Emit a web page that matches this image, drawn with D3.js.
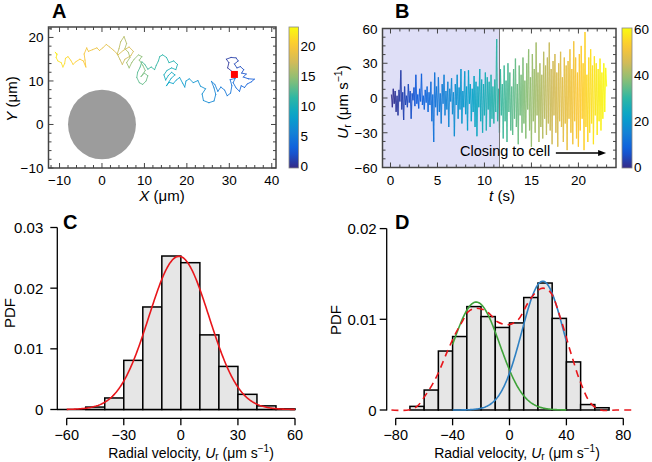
<!DOCTYPE html>
<html><head><meta charset="utf-8">
<script src="https://cdn.jsdelivr.net/npm/d3@7"></script>
<style>
body{margin:0;background:#fff}
svg{display:block}
text{font-family:Arial,"Liberation Sans",sans-serif;fill:#000}
</style>
</head><body>
<svg id="c" width="652" height="462"></svg>
<script>
// ---------------- DATA ----------------
// Panel A: trajectory (µm), in time order (start = red dot)
const trajX = [31.2,30.5,29.6,29.9,29.3,30.4,31.6,32.1,31.2,31.8,32.6,33.4,32.9,34.0,33.3,34.5,35.9,35.2,34.2,33.6,32.8,32.4,31.6,30.9,31.4,30.2,30.6,30.3,29.5,28.9,28.0,27.3,
 26.6,25.8,26.4,26.8,26.4,25.2,23.9,23.6,24.4,23.2,22.6,21.5,20.6,19.8,19.5,19.0,18.3,17.5,16.8,15.8,15.2,16.3,17.2,16.4,
 15.6,15.0,14.6,15.3,16.4,17.4,17.8,16.9,15.8,15.2,14.3,13.6,13.3,12.8,12.4,
 11.6,10.8,10.1,9.4,9.0,8.4,8.2,8.8,9.6,10.4,10.8,10.0,9.2,10.2,9.6,8.8,9.4,8.6,7.6,7.0,6.4,
 5.8,6.6,6.2,5.4,5.8,5.2,4.4,4.0,3.6,4.2,4.8,5.4,6.8,7.4,6.4,5.0,3.8,2.8,1.8,1.0,
 0.2,-0.6,-1.2,-2.2,-3.2,-3.6,-4.2,-4.0,-3.8,-4.4,-5.2,-6.2,-6.8,-7.4,-8.0,-8.6,-8.8,-9.2,-9.6,-10.4,-10.8,-10.6,-11.0,-10.6];
const trajY = [11.5,12.3,13.0,14.2,15.0,15.4,15.3,14.6,13.9,13.0,13.3,12.6,11.8,11.6,10.9,10.5,10.4,9.8,9.3,8.5,8.9,7.6,8.4,9.6,10.6,10.3,8.9,7.2,6.6,7.9,8.6,7.6,
 9.2,9.9,8.4,6.9,5.4,5.0,5.5,7.0,8.2,8.8,10.1,9.6,10.5,10.0,8.6,9.5,10.8,10.2,9.4,9.7,8.9,10.6,11.4,12.0,
 11.2,10.2,11.4,12.4,13.0,12.6,13.8,14.6,14.2,15.4,16.0,15.6,14.6,13.6,12.6,
 13.2,12.7,13.8,14.4,13.2,12.0,10.8,9.6,9.2,10.0,11.2,11.8,11.0,12.4,13.6,14.8,15.6,16.0,15.0,14.2,13.0,
 14.2,15.4,16.6,17.4,18.6,20.2,19.0,17.4,16.2,15.0,13.8,15.0,15.8,16.8,17.8,17.0,16.0,17.0,17.8,18.4,
 17.6,17.0,17.6,17.2,16.8,17.6,16.2,14.8,13.2,14.6,15.0,14.4,13.8,14.8,15.6,15.2,14.0,13.2,14.2,14.6,15.4,16.2,16.6,16.0];
const trajDuration = 22.5;          // s
const cellCenter = [0, 0];          // µm
const cellRadius = 8;               // µm
const ticksAx = [-10, 0, 10, 20, 30, 40];
const ticksAy = [-10, 0, 10, 20];
const ticksAcb = [0, 5, 10, 15, 20];

// Panel B: radial velocity (µm/s), sampled every 0.1 s from t = 0.1 s
const velStep = 0.1;
const velocity = [
 3,-8,8,-5,6,-12,2,-15,7,-3,
 24,-10,5,-19,10,-6,2,-8,12,-4,
 6,-18,4,-2,9,-7,20,-5,3,-9,
 8,-3,21,-6,2,-10,7,-4,10,-12,
 5,-6,14,-20,3,-38,22,-8,10,-15,
 18,-12,4,-22,12,-5,20,-15,6,-10,
 14,-25,8,-3,17,-14,5,-33,12,-6,
 20,-18,9,-10,25,-22,6,-8,23,-14,
 10,-28,24,-5,12,-20,8,-12,19,-25,
 14,-33,10,-8,25,-20,16,-30,12,-15,
 22,-28,18,-10,14,-25,20,-18,10,-22,
 16,-12,51,-20,8,-30,25,-15,12,-35,
 28,-20,15,-38,30,-12,22,-28,10,-32,
 25,-18,34,-25,12,-40,28,-15,20,-30,
 35,-22,15,-35,30,-10,42,-28,18,-42,
 38,-20,25,-30,48,-15,22,-38,30,-25,
 20,-35,40,-18,28,-32,35,-22,48,-28,
 25,-40,32,-15,38,-30,22,-42,30,-20,
 40,-25,18,-38,35,-22,28,-45,32,-18,
 42,-30,25,-40,49,-20,35,-35,22,-42,
 38,-28,45,-18,30,-45,57,-25,20,-38,
 35,-30,42,-22,28,-40,36,-15,30,-32,
 25,-20,34,-28,22,-18,30,-12,26,10];
const farPhaseEnd = 11.6;  // s, end of shaded region
const ticksBx = [0, 5, 10, 15, 20];
const ticksBy = [-60, -30, 0, 30, 60];
const ticksBcb = [0, 20, 40, 60];

// Panel C: histogram of Ur (bin width 10)
const binsC = [-50,-40,-30,-20,-10,0,10,20,30,40,50];
const pdfC  = [0.0004,0.0019,0.0081,0.0169,0.0253,0.0242,0.0123,0.0071,0.0025,0.0006,0.0001];
const fitC = {mean: -1, sd: 15.8};
const ticksCx = [-60,-30,0,30,60];
const ticksCy = [0,0.01,0.02,0.03];

// Panel D: histogram of Ur (bin width 10)
const binsD = [-70,-60,-50,-40,-30,-20,-10,0,10,20,30,40,50,60];
const pdfD  = [0.0004,0.0022,0.0065,0.0081,0.0114,0.0103,0.0091,0.0096,0.0124,0.0140,0.0101,0.0053,0.0006,0.00025];
const fitGreen = {mean: -23.4, sd: 16.6, peak: 0.0119, from: -40, to: 40};
const fitBlue  = {mean: 23.4, sd: 14.8, peak: 0.0142, from: -40, to: 40};
const envX = [-83,-71,-65,-59.6,-55,-50.3,-43.3,-37.4,-33,-29.2,-24.6,-17.5,-12,-8.2,-1.2,5.8,12.9,18,22.2,25,29.2,36.3,43.3,50.3,57.3,64.3,75,86];
const envY = [0,0,0.0004,0.0015,0.0026,0.0040,0.0066,0.0086,0.0098,0.0108,0.0112,0.0110,0.0103,0.0097,0.0094,0.0099,0.0118,0.0129,0.0134,0.0134,0.0129,0.0099,0.0062,0.0029,0.0007,0,0,0];
const ticksDx = [-80,-40,0,40,80];
const ticksDy = [0,0.01,0.02];

// ---------------- HELPERS ----------------
const svg = d3.select("#c");
const parulaStops = ["#352a87","#0f5cdd","#1481d6","#06a4ca","#2eb7a4","#87bf77","#d1bb59","#fec832","#f9fb0e"];
const parula = d3.piecewise(d3.interpolateRgb, parulaStops);
const minus = s => String(s).replace("-", "\u2212");

function gradient(id) {
  const lg = svg.append("defs").append("linearGradient").attr("id", id)
    .attr("x1",0).attr("y1",1).attr("x2",0).attr("y2",0);
  d3.range(0, 1.0001, 0.05).forEach(f => lg.append("stop").attr("offset", f).attr("stop-color", parula(f)));
}

function boxAxes(g, x, y, o) {
  const [x0, x1] = x.range(), [y0, y1] = y.range();
  const t = g.append("g").attr("stroke", "#444").attr("stroke-width", 1);
  o.xMinor.forEach(v => { const L = o.xMajor.includes(v) ? 5 : 3;
    t.append("line").attr("x1", x(v)).attr("x2", x(v)).attr("y1", y0).attr("y2", y0 - L);
    t.append("line").attr("x1", x(v)).attr("x2", x(v)).attr("y1", y1).attr("y2", y1 + L); });
  o.yMinor.forEach(v => { const L = o.yMajor.includes(v) ? 5 : 3;
    t.append("line").attr("y1", y(v)).attr("y2", y(v)).attr("x1", x0).attr("x2", x0 + L);
    t.append("line").attr("y1", y(v)).attr("y2", y(v)).attr("x1", x1).attr("x2", x1 - L); });
  g.append("rect").attr("x", x0).attr("y", y1).attr("width", x1 - x0).attr("height", y0 - y1)
    .attr("fill", "none").attr("stroke", "#444").attr("stroke-width", 1.5);
  o.xMajor.forEach(v => g.append("text").attr("x", x(v)).attr("y", y0 + 17).attr("text-anchor", "middle")
    .attr("font-size", 13.5).text(minus(v)));
  o.yMajor.forEach(v => g.append("text").attr("x", x0 - 5).attr("y", y(v) + 5).attr("text-anchor", "end")
    .attr("font-size", 13.5).text(minus(v)));
}

function colorbar(g, x0, w, cy, ticks, id) {
  const [b, t] = cy.range();
  g.append("rect").attr("x", x0).attr("y", t).attr("width", w).attr("height", b - t)
    .attr("fill", `url(#${id})`).attr("stroke", "#888").attr("stroke-width", 0.8);
  ticks.forEach(v => g.append("text").attr("x", x0 + w + 2).attr("y", cy(v) + 5).attr("font-size", 13.5).text(v));
}

function pdfAxes(g, x, y, o) {
  const [x0, x1] = x.range(), [yb, yt] = y.range();
  const sx = o.spineX, ay = o.axisY;
  g.append("line").attr("x1", sx).attr("x2", sx).attr("y1", yt).attr("y2", yb + 0.5).attr("stroke", "#000").attr("stroke-width", 1.3);
  o.yTicks.forEach(v => {
    g.append("line").attr("x1", sx - 7).attr("x2", sx).attr("y1", y(v)).attr("y2", y(v)).attr("stroke", "#000").attr("stroke-width", 1.3);
    g.append("text").attr("x", sx - o.labelGap).attr("y", y(v) + 5.5).attr("text-anchor", "end").attr("font-size", 15).text(v === 0 ? "0" : d3.format(".2f")(v));
  });
  g.append("line").attr("x1", x0).attr("x2", x1).attr("y1", ay).attr("y2", ay).attr("stroke", "#000").attr("stroke-width", 1.3);
  o.xTicks.forEach(v => {
    g.append("line").attr("x1", x(v)).attr("x2", x(v)).attr("y1", ay).attr("y2", ay + 7).attr("stroke", "#000").attr("stroke-width", 1.3);
    g.append("text").attr("x", x(v)).attr("y", ay + 22).attr("text-anchor", "middle").attr("font-size", 14.5).text(minus(v));
  });
}

function radialLabel(g, cx, by) {
  const t = g.append("text").attr("x", cx).attr("y", by).attr("text-anchor", "middle").attr("font-size", 14);
  t.append("tspan").text("Radial velocity, ");
  t.append("tspan").attr("font-style", "italic").text("U");
  t.append("tspan").attr("font-size", 10).attr("dy", 2).text("r");
  t.append("tspan").attr("dy", -2).text(" (\u03bcm s");
  t.append("tspan").attr("font-size", 10).attr("dy", -6).text("\u22121");
  t.append("tspan").attr("dy", 6).text(")");
}

function panelLetter(x, y, s) {
  svg.append("text").attr("x", x).attr("y", y).attr("font-size", 20).attr("font-weight", "bold").text(s);
}

// ---------------- PANEL A ----------------
const gA = svg.append("g");
const xA = d3.scaleLinear().domain([-12.6, 41]).range([48.5, 276]);
const yA = d3.scaleLinear().domain([-10, 22.4]).range([168, 27]);
const cbA = d3.scaleLinear().domain([-0.25, 23.1]).range([168, 27]);
gradient("gradA");
gA.append("ellipse").attr("cx", xA(cellCenter[0])).attr("cy", yA(cellCenter[1]))
  .attr("rx", xA(cellRadius) - xA(0)).attr("ry", yA(0) - yA(cellRadius)).attr("fill", "#9c9c9c");
const nA = trajX.length;
const colA = t => parula((t - cbA.domain()[0]) / (cbA.domain()[1] - cbA.domain()[0]));
for (let i = 0; i < nA - 1; i++) {
  const tm = (i + 0.5) / (nA - 1) * trajDuration;
  gA.append("line").attr("x1", xA(trajX[i])).attr("y1", yA(trajY[i]))
    .attr("x2", xA(trajX[i + 1])).attr("y2", yA(trajY[i + 1]))
    .attr("stroke", colA(tm)).attr("stroke-width", 1).attr("stroke-linecap", "round").attr("opacity", 0.85);
}
gA.append("rect").attr("x", xA(trajX[0]) - 3.5).attr("y", yA(trajY[0]) - 3.5).attr("width", 7).attr("height", 7).attr("fill", "#ff0000");
boxAxes(gA, xA, yA, {xMajor: ticksAx, xMinor: d3.range(-12, 41, 2), yMajor: ticksAy, yMinor: d3.range(-10, 23, 2)});
colorbar(gA, 289, 9.5, cbA, ticksAcb, "gradA");
{
  const t = gA.append("text").attr("x", 162).attr("y", 201).attr("text-anchor", "middle").attr("font-size", 15);
  t.append("tspan").attr("font-style", "italic").text("X");
  t.append("tspan").text(" (\u03bcm)");
  const ty = gA.append("text").attr("transform", "translate(17,99) rotate(-90)").attr("text-anchor", "middle").attr("font-size", 15);
  ty.append("tspan").attr("font-style", "italic").text("Y");
  ty.append("tspan").text(" (\u03bcm)");
}
panelLetter(52, 17.5, "A");

// ---------------- PANEL B ----------------
const gB = svg.append("g");
const xB = d3.scaleLinear().domain([-0.85, 24]).range([382.5, 616]);
const yB = d3.scaleLinear().domain([-60, 60]).range([167.5, 28.5]);
const cbB = d3.scaleLinear().domain([-0.6, 60.6]).range([168, 28]);
gradient("gradB");
gB.append("rect").attr("x", xB(-0.85)).attr("y", yB(60)).attr("width", xB(farPhaseEnd) - xB(-0.85))
  .attr("height", yB(-60) - yB(60)).attr("fill", "#dfdff7");
const tB = velocity.map((v, i) => (i + 1) * velStep);
const tMax = tB[tB.length - 1];
for (let i = 0; i < velocity.length - 1; i++) {
  gB.append("line").attr("x1", xB(tB[i])).attr("y1", yB(velocity[i]))
    .attr("x2", xB(tB[i + 1])).attr("y2", yB(velocity[i + 1]))
    .attr("stroke", parula(((tB[i] + tB[i + 1]) / 2) / tMax)).attr("stroke-width", 1.2).attr("opacity", 0.85);
}
gB.append("line").attr("x1", xB(farPhaseEnd)).attr("x2", xB(farPhaseEnd)).attr("y1", yB(60)).attr("y2", yB(-60))
  .attr("stroke", "#777").attr("stroke-width", 1);
boxAxes(gB, xB, yB, {xMajor: ticksBx, xMinor: d3.range(0, 24, 1), yMajor: ticksBy, yMinor: d3.range(-60, 61, 7.5)});
colorbar(gB, 622, 10, cbB, ticksBcb, "gradB");
gB.append("text").attr("x", xB(17.0)).attr("y", yB(-50.5)).attr("text-anchor", "end").attr("font-size", 14.5).text("Closing to cell");
gB.append("line").attr("x1", xB(17.6)).attr("x2", xB(22.3)).attr("y1", yB(-47.5)).attr("y2", yB(-47.5)).attr("stroke", "#000").attr("stroke-width", 1.5);
gB.append("path").attr("d", `M${xB(22.95)},${yB(-47.5)} l-8,-3 l0,6 z`).attr("fill", "#000");
{
  const t = gB.append("text").attr("x", 502).attr("y", 201).attr("text-anchor", "middle").attr("font-size", 15);
  t.append("tspan").attr("font-style", "italic").text("t");
  t.append("tspan").text(" (s)");
  const ty = gB.append("text").attr("transform", "translate(348,102) rotate(-90)").attr("text-anchor", "middle").attr("font-size", 15);
  ty.append("tspan").attr("font-style", "italic").text("U");
  ty.append("tspan").attr("font-size", 10.5).attr("dy", 3).text("r");
  ty.append("tspan").attr("dy", -3).text(" (\u03bcm s");
  ty.append("tspan").attr("font-size", 10.5).attr("dy", -6).text("\u22121");
  ty.append("tspan").attr("dy", 6).text(")");
}
panelLetter(395, 17.5, "B");

// ---------------- PANEL C ----------------
const gC = svg.append("g");
const xC = d3.scaleLinear().domain([-60, 60]).range([66.7, 295]);
const yC = d3.scaleLinear().domain([0, 0.03]).range([409.5, 227.5]);
gC.append("line").attr("x1", 57).attr("x2", xC(60)).attr("y1", yC(0)).attr("y2", yC(0)).attr("stroke", "#000").attr("stroke-width", 1.5);
gC.selectAll("rect.bar").data(pdfC).join("rect")
  .attr("x", (d, i) => xC(binsC[i])).attr("width", (d, i) => xC(binsC[i] + 10) - xC(binsC[i]))
  .attr("y", d => yC(d)).attr("height", d => yC(0) - yC(d))
  .attr("fill", "#e6e6e6").attr("stroke", "#000").attr("stroke-width", 1.5);
const gaussC = d3.range(-60, 60.01, 0.5).map(u => [u, Math.exp(-0.5 * ((u - fitC.mean) / fitC.sd) ** 2) / (fitC.sd * Math.sqrt(2 * Math.PI))]);
gC.append("path").attr("d", d3.line().x(d => xC(d[0])).y(d => yC(d[1]))(gaussC))
  .attr("fill", "none").attr("stroke", "#e8161b").attr("stroke-width", 1.6);
pdfAxes(gC, xC, yC, {spineX: 57.3, axisY: 418.3, yTicks: ticksCy, xTicks: ticksCx, labelGap: 14});
gC.append("text").attr("transform", "translate(15,313) rotate(-90)").attr("text-anchor", "middle").attr("font-size", 15).text("PDF");
radialLabel(gC, 191, 457.5);
panelLetter(63, 229, "C");

// ---------------- PANEL D ----------------
const gD = svg.append("g");
const xD = d3.scaleLinear().domain([-80, 80]).range([395.7, 623.3]);
const yD = d3.scaleLinear().domain([0, 0.02]).range([410, 228.6]);
gD.selectAll("rect.bar").data(pdfD).join("rect")
  .attr("x", (d, i) => xD(binsD[i])).attr("width", (d, i) => xD(binsD[i] + 10) - xD(binsD[i]))
  .attr("y", d => yD(d)).attr("height", d => yD(0) - yD(d))
  .attr("fill", "#e6e6e6").attr("stroke", "#000").attr("stroke-width", 1.5);
const gaussCurve = f => d3.range(f.from, f.to + 0.01, 0.5).map(u => [u, f.peak * Math.exp(-0.5 * ((u - f.mean) / f.sd) ** 2)]);
const lineD = d3.line().x(d => xD(d[0])).y(d => yD(d[1]));
gD.append("path").attr("d", lineD(gaussCurve(fitGreen))).attr("fill", "none").attr("stroke", "#3fa33a").attr("stroke-width", 1.6);
gD.append("path").attr("d", lineD(gaussCurve(fitBlue))).attr("fill", "none").attr("stroke", "#2f80c2").attr("stroke-width", 1.6);
gD.append("path").attr("d", d3.line().x((d, i) => xD(envX[i])).y(d => yD(d)).curve(d3.curveCatmullRom)(envY))
  .attr("fill", "none").attr("stroke", "#e8161b").attr("stroke-width", 1.6).attr("stroke-dasharray", "7,5");
pdfAxes(gD, xD, yD, {spineX: 386.7, axisY: 418.3, yTicks: ticksDy, xTicks: ticksDx, labelGap: 10});
gD.append("text").attr("transform", "translate(341,320) rotate(-90)").attr("text-anchor", "middle").attr("font-size", 15).text("PDF");
radialLabel(gD, 517, 457.5);
panelLetter(395, 229, "D");
</script>
</body></html>
